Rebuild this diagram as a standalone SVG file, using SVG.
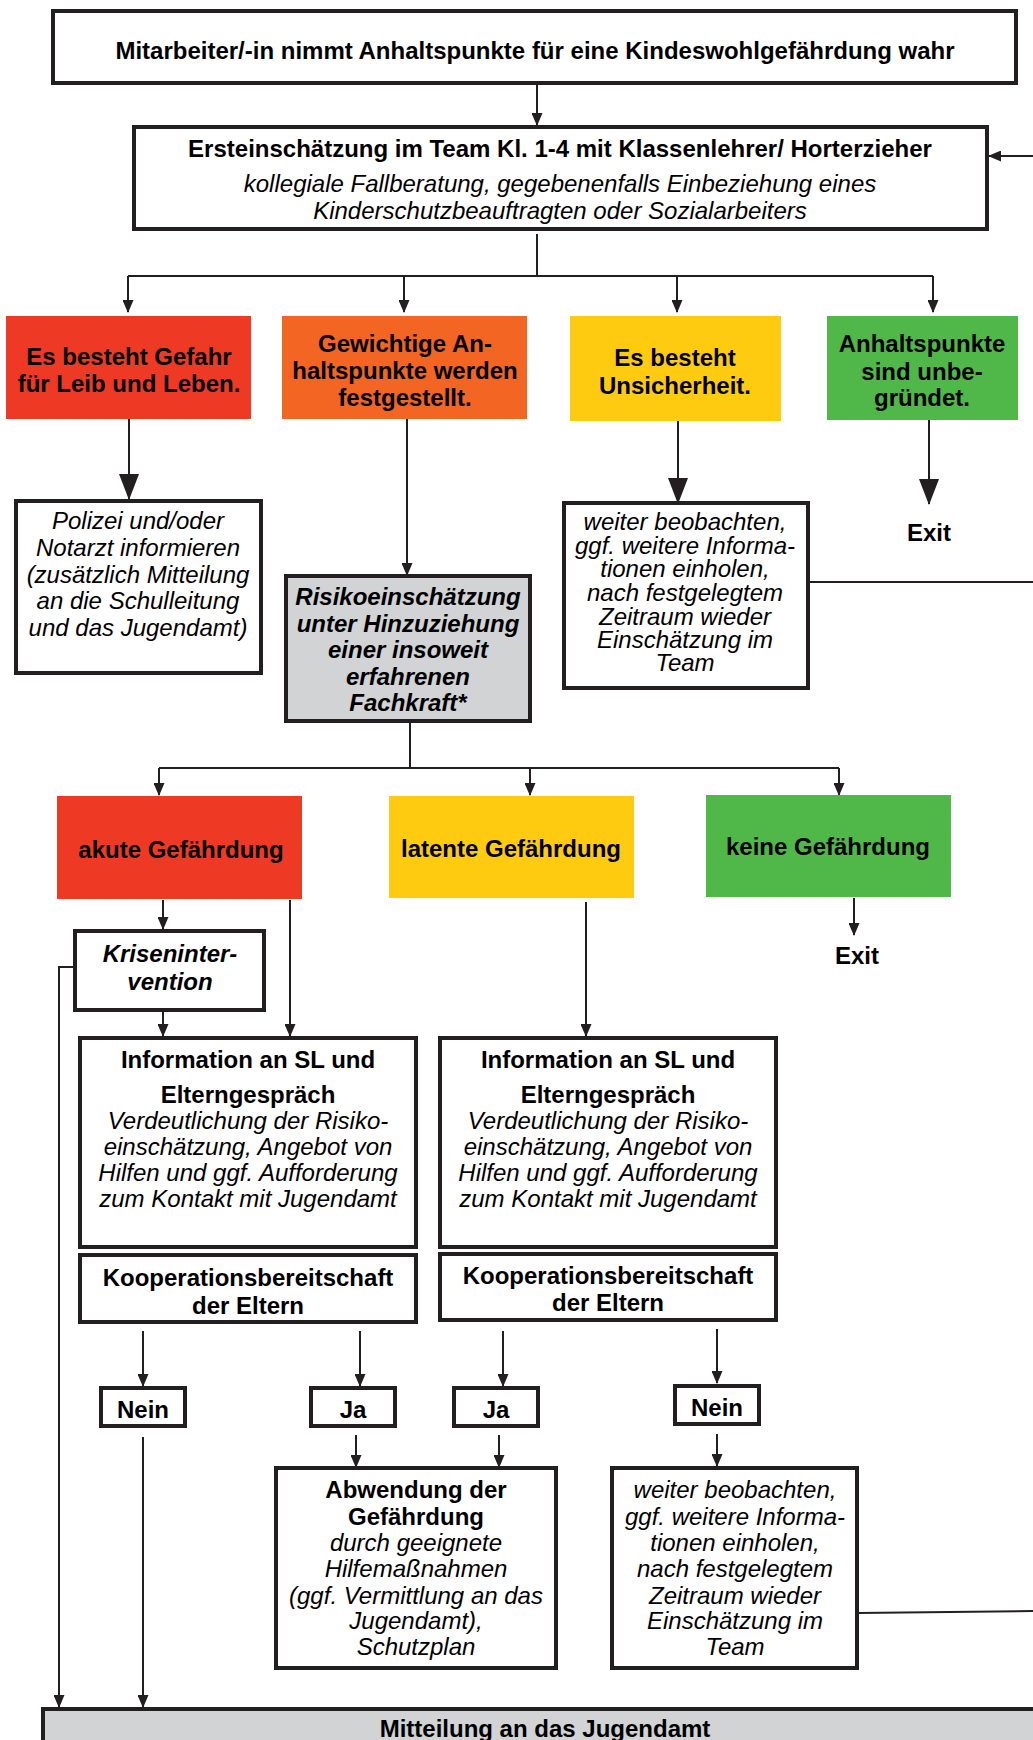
<svg xmlns="http://www.w3.org/2000/svg" width="1033" height="1740" viewBox="0 0 1033 1740">
<defs>
<style>
.t{font-family:"Liberation Sans",Arial,sans-serif;font-size:24px;fill:#000;text-anchor:middle}
.b{font-weight:bold}
.i{font-style:italic}
.box{fill:#fff;stroke:#231F20;stroke-width:4}
.gray{fill:#D1D3D4;stroke:#231F20;stroke-width:4}
.c{fill:none;stroke:#231F20;stroke-width:2}
</style>
<marker id="ah" markerWidth="13" markerHeight="11" refX="12" refY="5.5" orient="auto" markerUnits="userSpaceOnUse"><path d="M0,0 L13,5.5 L0,11 z" fill="#231F20"/></marker>
<marker id="big" markerWidth="26" markerHeight="20" refX="25" refY="10" orient="auto" markerUnits="userSpaceOnUse"><path d="M0,0 L26,10 L0,20 z" fill="#231F20"/></marker>
</defs>
<rect width="1033" height="1740" fill="#fff"/>

<g id="connectors">
<path class="c" d="M537,84 V125" marker-end="url(#ah)"/>
<path class="c" d="M1035,156 H989" marker-end="url(#ah)"/>
<path class="c" d="M537,234 V276"/>
<path class="c" d="M128,276 H933"/>
<path class="c" d="M128,276 V312" marker-end="url(#ah)"/>
<path class="c" d="M404,276 V312" marker-end="url(#ah)"/>
<path class="c" d="M677,276 V312" marker-end="url(#ah)"/>
<path class="c" d="M933,276 V312" marker-end="url(#ah)"/>
<path class="c" d="M129,419 V499" marker-end="url(#big)"/>
<path class="c" d="M407,419 V575" marker-end="url(#ah)"/>
<path class="c" d="M678,421 V503" marker-end="url(#big)"/>
<path class="c" d="M929,420 V504" marker-end="url(#big)"/>
<path class="c" d="M808,582 H1035"/>
<path class="c" d="M410,722 V768"/>
<path class="c" d="M159,768 H839"/>
<path class="c" d="M159,768 V795" marker-end="url(#ah)"/>
<path class="c" d="M530,768 V795" marker-end="url(#ah)"/>
<path class="c" d="M839,768 V795" marker-end="url(#ah)"/>
<path class="c" d="M163,900 V929" marker-end="url(#ah)"/>
<path class="c" d="M290,900 V1036" marker-end="url(#ah)"/>
<path class="c" d="M163,1012 V1036" marker-end="url(#ah)"/>
<path class="c" d="M74,967 H59 V1707" marker-end="url(#ah)"/>
<path class="c" d="M586,902 V1036" marker-end="url(#ah)"/>
<path class="c" d="M854,898 V935" marker-end="url(#ah)"/>
<path class="c" d="M143,1331 V1386" marker-end="url(#ah)"/>
<path class="c" d="M360,1331 V1386" marker-end="url(#ah)"/>
<path class="c" d="M503,1331 V1386" marker-end="url(#ah)"/>
<path class="c" d="M717,1329 V1383" marker-end="url(#ah)"/>
<path class="c" d="M356,1435 V1467" marker-end="url(#ah)"/>
<path class="c" d="M499,1435 V1467" marker-end="url(#ah)"/>
<path class="c" d="M717,1434 V1466" marker-end="url(#ah)"/>
<path class="c" d="M143,1437 V1707" marker-end="url(#ah)"/>
<path class="c" d="M858,1613 L1035,1611"/>
</g>

<g id="n-start">
<rect class="box" x="53" y="11" width="963" height="72"/>
<text class="t b" x="535" y="59">Mitarbeiter/-in nimmt Anhaltspunkte für eine Kindeswohlgefährdung wahr</text>
</g>

<g id="n-erst">
<rect class="box" x="134" y="127" width="853" height="102"/>
<text class="t b" x="560" y="157">Ersteinschätzung im Team Kl. 1-4 mit Klassenlehrer/ Horterzieher</text>
<text class="t i" x="560" y="192">kollegiale Fallberatung, gegebenenfalls Einbeziehung eines</text>
<text class="t i" x="560" y="219">Kinderschutzbeauftragten oder Sozialarbeiters</text>
</g>

<g id="n-gefahr">
<rect x="6" y="316" width="245" height="103" fill="#EE3A24"/>
<text class="t b" x="129" y="365">Es besteht Gefahr</text>
<text class="t b" x="129" y="392">für Leib und Leben.</text>
</g>

<g id="n-gewichtig">
<rect x="282" y="316" width="245" height="103" fill="#F26522"/>
<text class="t b" x="405" y="352">Gewichtige An-</text>
<text class="t b" x="405" y="379">haltspunkte werden</text>
<text class="t b" x="405" y="406">festgestellt.</text>
</g>

<g id="n-unsicher">
<rect x="570" y="316" width="211" height="105" fill="#FFCB11"/>
<text class="t b" x="675" y="366">Es besteht</text>
<text class="t b" x="675" y="394">Unsicherheit.</text>
</g>

<g id="n-unbegruendet">
<rect x="827" y="316" width="191" height="104" fill="#50B848"/>
<text class="t b" x="922" y="352">Anhaltspunkte</text>
<text class="t b" x="922" y="380">sind unbe-</text>
<text class="t b" x="922" y="406">gründet.</text>
</g>

<g id="n-polizei">
<rect class="box" x="16" y="501" width="245" height="172"/>
<text class="t i" x="138" y="529">Polizei und/oder</text>
<text class="t i" x="138" y="556">Notarzt informieren</text>
<text class="t i" x="138" y="583">(zusätzlich Mitteilung</text>
<text class="t i" x="138" y="609">an die Schulleitung</text>
<text class="t i" x="138" y="636">und das Jugendamt)</text>
</g>

<g id="n-risiko">
<rect class="gray" x="286" y="576" width="244" height="145"/>
<text class="t b i" x="408" y="605">Risikoeinschätzung</text>
<text class="t b i" x="408" y="632">unter Hinzuziehung</text>
<text class="t b i" x="408" y="658">einer insoweit</text>
<text class="t b i" x="408" y="685">erfahrenen</text>
<text class="t b i" x="408" y="711">Fachkraft*</text>
</g>

<g id="n-weiter1">
<rect class="box" x="564" y="503" width="244" height="185"/>
<text class="t i" x="685" y="530">weiter beobachten,</text>
<text class="t i" x="685" y="554">ggf. weitere Informa-</text>
<text class="t i" x="685" y="577">tionen einholen,</text>
<text class="t i" x="685" y="601">nach festgelegtem</text>
<text class="t i" x="685" y="625">Zeitraum wieder</text>
<text class="t i" x="685" y="648">Einschätzung im</text>
<text class="t i" x="685" y="671">Team</text>
</g>

<g id="n-exit1">
<text class="t b" x="929" y="541">Exit</text>
</g>

<g id="n-akut">
<rect x="57" y="796" width="245" height="103" fill="#EE3A24"/>
<text class="t b" x="181" y="858">akute Gefährdung</text>
</g>

<g id="n-latent">
<rect x="389" y="796" width="245" height="102" fill="#FFCB11"/>
<text class="t b" x="511" y="857">latente Gefährdung</text>
</g>

<g id="n-keine">
<rect x="706" y="795" width="245" height="102" fill="#50B848"/>
<text class="t b" x="828" y="855">keine Gefährdung</text>
</g>

<g id="n-exit2">
<text class="t b" x="857" y="964">Exit</text>
</g>

<g id="n-krise">
<rect class="box" x="75" y="931" width="189" height="79"/>
<text class="t b i" x="170" y="962">Kriseninter-</text>
<text class="t b i" x="170" y="990">vention</text>
</g>

<g id="n-info1">
<rect class="box" x="80" y="1038" width="336" height="209"/>
<text class="t b" x="248" y="1068">Information an SL und</text>
<text class="t b" x="248" y="1103">Elterngespräch</text>
<text class="t i" x="248" y="1129">Verdeutlichung der Risiko-</text>
<text class="t i" x="248" y="1155">einschätzung, Angebot von</text>
<text class="t i" x="248" y="1181">Hilfen und ggf. Aufforderung</text>
<text class="t i" x="248" y="1207">zum Kontakt mit Jugendamt</text>
</g>

<g id="n-info2">
<rect class="box" x="440" y="1038" width="336" height="209"/>
<text class="t b" x="608" y="1068">Information an SL und</text>
<text class="t b" x="608" y="1103">Elterngespräch</text>
<text class="t i" x="608" y="1129">Verdeutlichung der Risiko-</text>
<text class="t i" x="608" y="1155">einschätzung, Angebot von</text>
<text class="t i" x="608" y="1181">Hilfen und ggf. Aufforderung</text>
<text class="t i" x="608" y="1207">zum Kontakt mit Jugendamt</text>
</g>

<g id="n-koop1">
<rect class="box" x="80" y="1255" width="336" height="67"/>
<text class="t b" x="248" y="1286">Kooperationsbereitschaft</text>
<text class="t b" x="248" y="1314">der Eltern</text>
</g>

<g id="n-koop2">
<rect class="box" x="440" y="1254" width="336" height="66"/>
<text class="t b" x="608" y="1284">Kooperationsbereitschaft</text>
<text class="t b" x="608" y="1311">der Eltern</text>
</g>

<g id="n-nein1">
<rect class="box" x="101" y="1388" width="84" height="38"/>
<text class="t b" x="143" y="1418">Nein</text>
</g>
<g id="n-ja1">
<rect class="box" x="311" y="1388" width="84" height="38"/>
<text class="t b" x="353" y="1418">Ja</text>
</g>
<g id="n-ja2">
<rect class="box" x="454" y="1388" width="84" height="38"/>
<text class="t b" x="496" y="1418">Ja</text>
</g>
<g id="n-nein2">
<rect class="box" x="675" y="1386" width="84" height="38"/>
<text class="t b" x="717" y="1416">Nein</text>
</g>

<g id="n-abwendung">
<rect class="box" x="276" y="1468" width="280" height="200"/>
<text class="t b" x="416" y="1498">Abwendung der</text>
<text class="t b" x="416" y="1525">Gefährdung</text>
<text class="t i" x="416" y="1551">durch geeignete</text>
<text class="t i" x="416" y="1577">Hilfemaßnahmen</text>
<text class="t i" x="416" y="1604">(ggf. Vermittlung an das</text>
<text class="t i" x="416" y="1629">Jugendamt),</text>
<text class="t i" x="416" y="1655">Schutzplan</text>
</g>

<g id="n-weiter2">
<rect class="box" x="612" y="1468" width="245" height="200"/>
<text class="t i" x="735" y="1498">weiter beobachten,</text>
<text class="t i" x="735" y="1525">ggf. weitere Informa-</text>
<text class="t i" x="735" y="1551">tionen einholen,</text>
<text class="t i" x="735" y="1577">nach festgelegtem</text>
<text class="t i" x="735" y="1604">Zeitraum wieder</text>
<text class="t i" x="735" y="1629">Einschätzung im</text>
<text class="t i" x="735" y="1655">Team</text>
</g>

<g id="n-jugendamt">
<rect class="gray" x="43" y="1709" width="1010" height="60"/>
<text class="t b" x="545" y="1737">Mitteilung an das Jugendamt</text>
</g>
</svg>
